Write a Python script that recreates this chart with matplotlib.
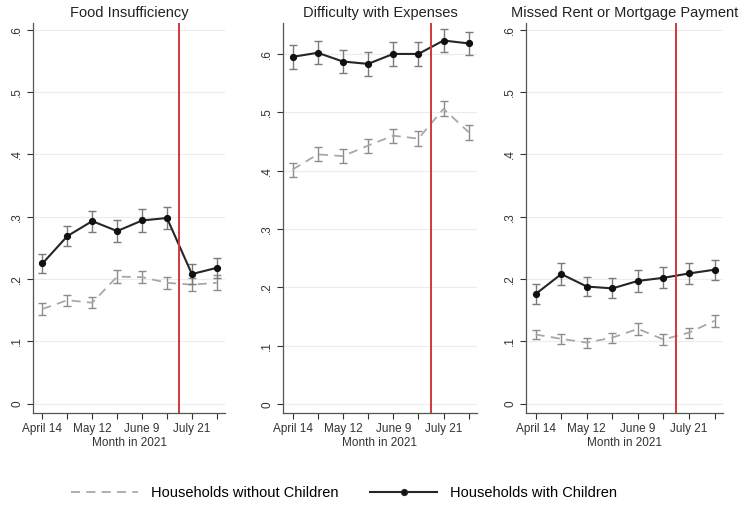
import matplotlib.pyplot as plt
import numpy as np

plt.rcParams['font.family'] = ['Liberation Sans', 'DejaVu Sans']

weeks = ['April 14', 'April 28', 'May 12', 'May 26', 'June 9', 'June 23', 'July 21', 'August 4']
tick_labels = ['April 14', '', 'May 12', '', 'June 9', '', 'July 21', '']
titles = ['Food Insufficiency', 'Difficulty with Expenses', 'Missed Rent or Mortgage Payment']

# households with children
food_with = [0.225, 0.269, 0.293, 0.277, 0.294, 0.298, 0.208, 0.218]
food_with_err = [0.016, 0.016, 0.017, 0.017, 0.018, 0.018, 0.016, 0.016]
exp_with = [0.595, 0.602, 0.587, 0.583, 0.600, 0.600, 0.623, 0.618]
exp_with_err = [0.020, 0.020, 0.020, 0.020, 0.020, 0.020, 0.020, 0.020]
rent_with = [0.176, 0.208, 0.188, 0.185, 0.197, 0.202, 0.209, 0.215]
rent_with_err = [0.016, 0.017, 0.016, 0.016, 0.017, 0.017, 0.017, 0.016]

# households without children
food_without = [0.152, 0.166, 0.162, 0.204, 0.203, 0.194, 0.191, 0.194]
food_without_err = [0.009, 0.009, 0.009, 0.010, 0.010, 0.010, 0.010, 0.012]
exp_without = [0.402, 0.428, 0.425, 0.443, 0.460, 0.455, 0.506, 0.466]
exp_without_err = [0.012, 0.012, 0.012, 0.012, 0.012, 0.013, 0.013, 0.013]
rent_without = [0.111, 0.104, 0.098, 0.106, 0.120, 0.103, 0.114, 0.133]
rent_without_err = [0.008, 0.008, 0.008, 0.008, 0.009, 0.009, 0.008, 0.010]

with_kids = [food_with, exp_with, rent_with]
with_kids_err = [food_with_err, exp_with_err, rent_with_err]
without_kids = [food_without, exp_without, rent_without]
without_kids_err = [food_without_err, exp_without_err, rent_without_err]
ytops = [0.611, 0.653, 0.611]

W, H = 739, 512
fig = plt.figure(figsize=(W / 100, H / 100), dpi=100)
panels = [(33, 192), (283, 194), (526, 197)]
x = np.arange(len(weeks))
dash = (0, (5, 3.5))

for i, (left, width) in enumerate(panels):
    ax = fig.add_axes([left / W, (H - 413) / H, width / W, 390 / H])
    ax.errorbar(x, without_kids[i], yerr=without_kids_err[i], color='#a8a8a8',
                ls=dash, lw=1.3, capsize=3, elinewidth=1.0, capthick=1.0,
                ecolor='#8c8c8c', zorder=2)
    ax.errorbar(x, with_kids[i], yerr=with_kids_err[i], color='#262626',
                lw=1.5, marker='o', ms=4.2, mfc='#111111', mec='#111111',
                capsize=3, elinewidth=1.0, capthick=1.0, ecolor='#7a7a7a', zorder=3)
    ax.axvline(5.5, color='#d0393b', lw=1.4, zorder=4)
    ax.set_xlim(-0.38, 7.33)
    ax.set_ylim(-0.015, ytops[i])
    ax.set_yticks([0, 0.1, 0.2, 0.3, 0.4, 0.5, 0.6])
    ax.set_yticklabels(['0', '.1', '.2', '.3', '.4', '.5', '.6'], rotation=90, va='center')
    ax.set_xticks(x)
    ax.set_xticklabels(tick_labels)
    ax.tick_params(axis='x', labelsize=8.5, colors='#333333', length=4, width=0.8)
    ax.tick_params(axis='y', labelsize=8.5, colors='#333333', length=4, width=0.8, pad=3)
    ax.yaxis.grid(True, color='#ececec', lw=0.8)
    ax.set_axisbelow(True)
    for s in ['top', 'right']:
        ax.spines[s].set_visible(False)
    for s in ['left', 'bottom']:
        ax.spines[s].set_color('#555555')
        ax.spines[s].set_linewidth(0.9)
    ax.set_xlabel('Month in 2021', fontsize=8.5, color='#333333', labelpad=1)
    ax.set_title(titles[i], fontsize=10.5, color='#222222', pad=4)

h1, = plt.plot([], [], color='#a8a8a8', ls=dash, lw=1.3)
h2, = plt.plot([], [], color='#262626', lw=1.5, marker='o', ms=4.2, mfc='#111111')
fig.legend([h1, h2], ['Households without Children', 'Households with Children'],
           loc='center', bbox_to_anchor=(344 / W, (H - 493) / H), ncol=2, frameon=False,
           fontsize=10.5, handlelength=4.6, handletextpad=0.9, columnspacing=2.2)

fig.savefig('out.png', dpi=100)
